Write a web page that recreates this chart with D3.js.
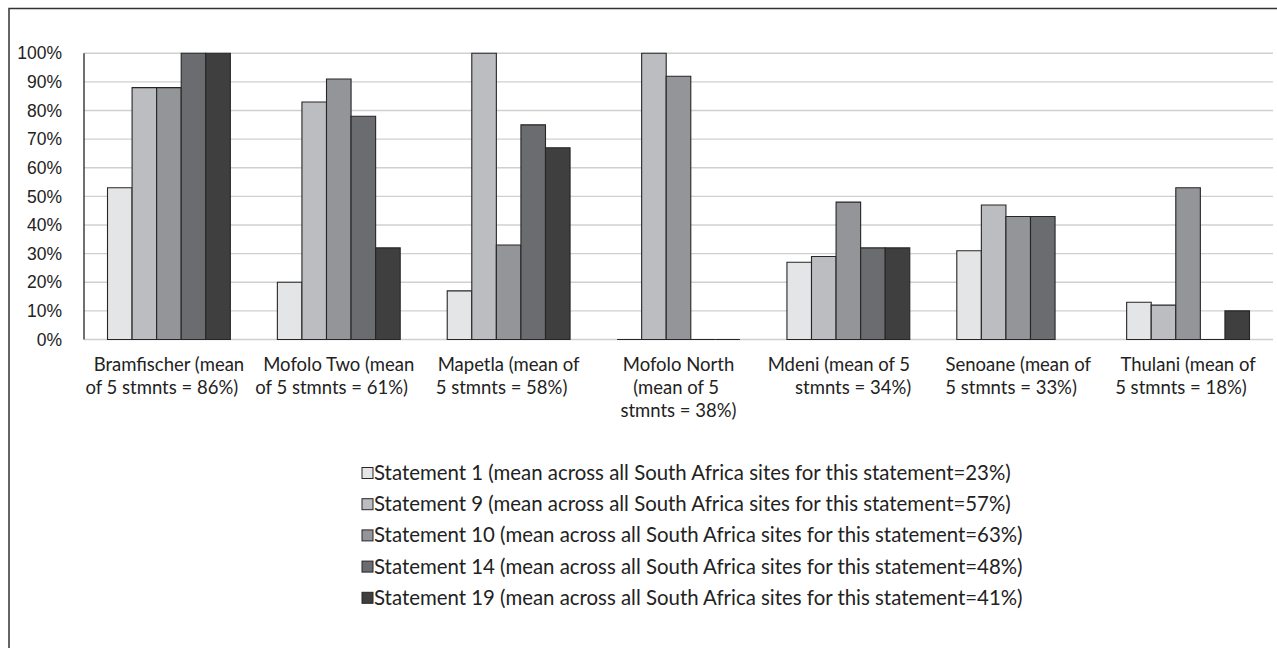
<!DOCTYPE html>
<html><head><meta charset="utf-8">
<script src="https://cdn.jsdelivr.net/npm/d3@7"></script>
<style>body{margin:0;background:#fff} text{white-space:pre}</style>
</head><body><svg id="c" width="1277" height="648"></svg>
<script>
const categories = ["Bramfischer", "Mofolo Two", "Mapetla", "Mofolo North", "Mdeni", "Senoane", "Thulani"];
const categoryLabels = [
  ["Bramfischer (mean", "of 5 stmnts = 86%)   "],
  ["Mofolo Two (mean", "of 5 stmnts = 61%)   "],
  ["Mapetla (mean of", "5 stmnts = 58%)   "],
  ["Mofolo North", "(mean of 5 ", "stmnts = 38%)"],
  ["Mdeni (mean of 5    ", "  stmnts = 34%)"],
  ["Senoane (mean of", "5 stmnts = 33%)   "],
  ["Thulani (mean of", "5 stmnts = 18%)   "]
];
const seriesNames = [
  "Statement 1 (mean across all South Africa sites for this statement=23%)",
  "Statement 9 (mean across all South Africa sites for this statement=57%)",
  "Statement 10 (mean across all South Africa sites for this statement=63%)",
  "Statement 14 (mean across all South Africa sites for this statement=48%)",
  "Statement 19 (mean across all South Africa sites for this statement=41%)"
];
const statement1  = [53, 20, 17, 0, 27, 31, 13];
const statement9  = [88, 83, 100, 100, 29, 47, 12];
const statement10 = [88, 91, 33, 92, 48, 43, 53];
const statement14 = [100, 78, 75, 0, 32, 43, 0];
const statement19 = [100, 32, 67, 0, 32, null, 10];
const yTicks = [0, 10, 20, 30, 40, 50, 60, 70, 80, 90, 100];
const colors = ["#e4e5e6", "#bcbdc0", "#939598", "#6b6c70", "#3f3f40"];

const seriesValues = [statement1, statement9, statement10, statement14, statement19];

(function () {
const svg = d3.select("#c");
const pLeft = 84, pRight = 1273, pTop = 53.3, pBottom = 339.5;
const FONT = "Lato, 'Open Sans', sans-serif";

// outer border
svg.append("rect").attr("x", 9).attr("y", 8.5).attr("width", 1400).attr("height", 800)
  .attr("fill", "none").attr("stroke", "#333").attr("stroke-width", 1.5);

const x0 = d3.scaleBand().domain(categories).range([pLeft, pRight]).padding(0);
const x1 = d3.scaleBand().domain(d3.range(5)).range([0, x0.bandwidth()]).paddingInner(0).paddingOuter(0.957);
const y = d3.scaleLinear().domain([0, 100]).range([pBottom, pTop]);

// gridlines (incl. baseline)
svg.append("g").selectAll("line").data(yTicks).join("line")
  .attr("x1", pLeft).attr("x2", pRight).attr("y1", d => y(d)).attr("y2", d => y(d))
  .attr("stroke", "#d0d0d0").attr("stroke-width", 1.4);

// y axis labels
const yAxis = d3.axisLeft(y).tickValues(yTicks).tickFormat(d => d + "%").tickSize(0).tickPadding(22);
const gy = svg.append("g").attr("transform", `translate(${pLeft},0)`).call(yAxis);
gy.select(".domain").remove();
gy.selectAll("text").attr("font-family", "'Liberation Sans', Arial, sans-serif").attr("font-size", 17.5).attr("fill", "#222");

// bars
const bars = [];
categories.forEach((c, i) => {
  seriesValues.forEach((vals, s) => {
    if (vals[i] !== null) bars.push({c, s, v: vals[i]});
  });
});
svg.append("g").selectAll("path").data(bars).join("path")
  .attr("d", d => {
    const x = x0(d.c) + x1(d.s), w = x1.bandwidth();
    return `M${x},${y(0)}V${y(d.v)}H${x + w}V${y(0)}Z`;
  })
  .attr("fill", d => colors[d.s]).attr("stroke", "#262626").attr("stroke-width", 1.1);

// y axis line
svg.append("line").attr("x1", pLeft).attr("x2", pLeft).attr("y1", pTop).attr("y2", pBottom)
  .attr("stroke", "#222").attr("stroke-width", 1.3);

// category labels
const gl = svg.append("g");
categories.forEach((c, i) => {
  const cx = x0(c) + x0.bandwidth() / 2;
  categoryLabels[i].forEach((line, j) => {
    gl.append("text").attr("x", cx).attr("y", 370.5 + j * 23).attr("text-anchor", "middle")
      .attr("font-family", FONT).attr("font-size", 18.5).attr("fill", "#222").text(line);
  });
});

// legend
const lg = svg.append("g");
seriesNames.forEach((n, i) => {
  const yy = 473 + i * 31.2;
  lg.append("rect").attr("x", 362).attr("y", yy - 5.5).attr("width", 11).attr("height", 11)
    .attr("fill", colors[i]).attr("stroke", "#262626").attr("stroke-width", 1);
  lg.append("text").attr("x", 374).attr("y", yy + 7)
    .attr("font-family", FONT).attr("font-size", 20.4).attr("fill", "#222").text(n);
});
})();
</script></body></html>
